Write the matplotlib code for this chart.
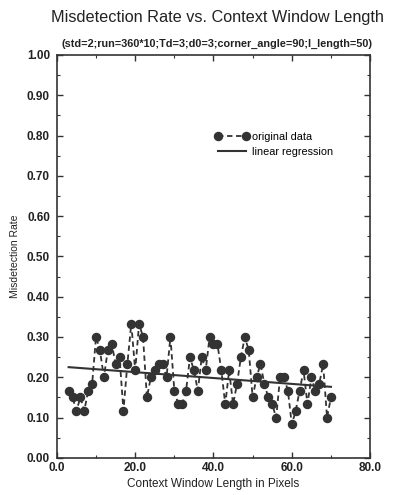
import numpy as np
import matplotlib
matplotlib.use("Agg")
import matplotlib.pyplot as plt
from matplotlib.ticker import MultipleLocator, FormatStrFormatter

plt.rcParams['font.family'] = ['Liberation Sans', 'DejaVu Sans']

# context window length (pixels) and misdetection rate
window_len = list(range(3, 71))
miss_rate = [0.167, 0.150, 0.117, 0.150, 0.117, 0.167, 0.183, 0.300, 0.267, 0.200,
             0.267, 0.283, 0.233, 0.250, 0.117, 0.233, 0.333, 0.217, 0.333, 0.300,
             0.150, 0.200, 0.217, 0.233, 0.233, 0.200, 0.300, 0.167, 0.133, 0.133,
             0.167, 0.250, 0.217, 0.167, 0.250, 0.217, 0.300, 0.283, 0.283, 0.217,
             0.133, 0.217, 0.133, 0.183, 0.250, 0.300, 0.267, 0.150, 0.200, 0.233,
             0.183, 0.150, 0.133, 0.100, 0.200, 0.200, 0.167, 0.083, 0.117, 0.167,
             0.217, 0.133, 0.200, 0.167, 0.183, 0.233, 0.100, 0.150]

x = np.array(window_len)
y = np.array(miss_rate)
slope, icpt = np.polyfit(x, y, 1)

fig = plt.figure(figsize=(3.95, 4.95), dpi=100)
ax = fig.add_axes([0.144, 0.075, 0.793, 0.814])

ink = "#333333"
ax.plot(x, y, "--", color=ink, lw=1.3, marker="o", ms=5.8, mfc=ink, mec=ink,
        dashes=(3, 2), label="original data")
ax.plot(x, slope * x + icpt, "-", color=ink, lw=1.5, label="linear regression")

ax.set_xlim(0, 80)
ax.set_ylim(0, 1)
ax.xaxis.set_major_locator(MultipleLocator(20))
ax.xaxis.set_minor_locator(MultipleLocator(10))
ax.yaxis.set_major_locator(MultipleLocator(0.1))
ax.yaxis.set_minor_locator(MultipleLocator(0.05))
ax.xaxis.set_major_formatter(FormatStrFormatter("%.1f"))
ax.yaxis.set_major_formatter(FormatStrFormatter("%.2f"))
ax.tick_params(which="both", direction="in", top=True, right=True, color=ink)
ax.tick_params(which="major", length=4, width=1, labelsize=8.5)
ax.tick_params(axis="x", pad=3)
ax.tick_params(axis="y", pad=5)
ax.tick_params(which="minor", length=2, width=0.8)
for lab in ax.get_xticklabels() + ax.get_yticklabels():
    lab.set_fontweight("bold")
    lab.set_color("#222222")
for sp in ax.spines.values():
    sp.set_linewidth(1.2)
    sp.set_color(ink)

ax.set_xlabel("Context Window Length in Pixels", fontsize=8.5, color="#222222", labelpad=3)
ax.set_ylabel("Misdetection Rate", fontsize=7.5, color="#222222", labelpad=5)

fig.text(0.55, 0.965, "Misdetection Rate vs. Context Window Length",
         ha="center", va="center", fontsize=11.7, color="#222222")
fig.text(0.55, 0.912, "(std=2;run=360*10;Td=3;d0=3;corner_angle=90;l_length=50)",
         ha="center", va="center", fontsize=7.8, fontweight="bold", color="#222222")

ax.legend(loc="upper left", bbox_to_anchor=(0.49, 0.82), frameon=False,
          numpoints=2, handlelength=3.2, fontsize=7.8, labelspacing=0.45,
          handletextpad=0.2, borderaxespad=0)

fig.savefig("out.png", dpi=100)
